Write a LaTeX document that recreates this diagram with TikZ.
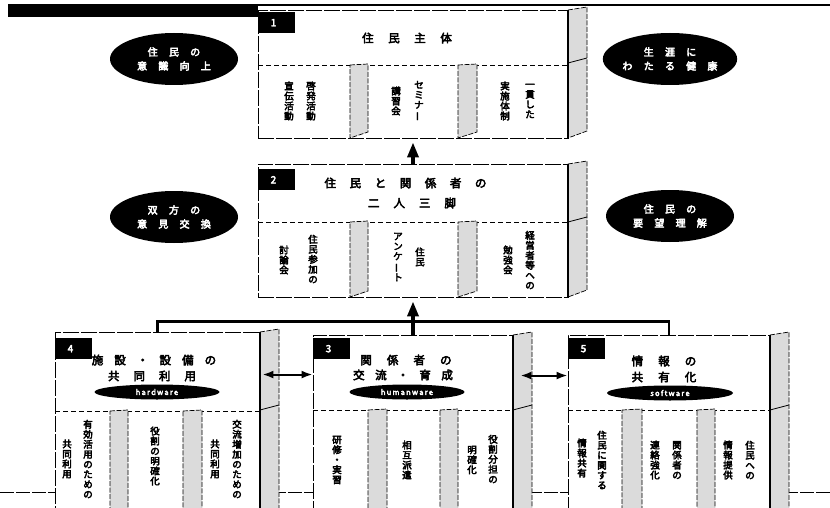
\documentclass[tikz,border=0pt]{standalone}
\usepackage{fontspec}
\setmainfont{Noto Sans CJK JP}[BoldFont={Noto Sans CJK JP}, BoldFeatures={FakeBold=4}]
\usetikzlibrary{arrows.meta,shapes.geometric,calc}
\newcommand\gp[1][14pt]{\hspace{#1}}
\newcommand\vbar{\rotatebox[origin=c]{90}{ー}}
\newcommand\stripat[4]{\draw[stripface] (#1,#3) -- (#2,#3-1) -- (#2,#4-6) -- (#1,#4) -- cycle;}
\newcommand\sidefaceat[4]{\draw[stripface] (#1,#2) -- (#1+19,#2-3) -- (#1+19,#4-7) -- (#1,#4) -- cycle;
  \draw[sidediv] (#1,#3) -- (#1+19,#3-5);
  \draw[line width=1.1pt] (#1,#2) -- (#1,#4);}
\begin{document}
\begin{tikzpicture}[x=1pt,y=-1pt,
  front/.style={draw, line width=0.9pt, fill=white, inner sep=0pt, dash pattern=on 16pt off 2pt},
  stripface/.style={draw, line width=0.7pt, fill=black!14, dash pattern=on 5pt off 1.5pt},
  sidediv/.style={line width=0.8pt},
  divline/.style={line width=0.8pt, dash pattern=on 5pt off 3pt},
  tab/.style={fill=black, text=white, font=\bfseries\fontsize{10}{10}\selectfont, minimum height=21pt, text width=12pt, inner xsep=12.5pt, inner ysep=0pt, align=left, anchor=north west},
  ttl/.style={font=\bfseries\fontsize{11.5}{11.5}\selectfont, inner sep=0pt},
  vt/.style={font=\bfseries\fontsize{9.5}{10}\selectfont, align=center, inner sep=0pt},
  bigell/.style={ellipse, fill=black, text=white, minimum width=128pt, minimum height=52pt, inner sep=0pt, font=\bfseries\fontsize{10}{14}\selectfont, align=center},
  smallell/.style={ellipse, fill=black, text=white, minimum height=15pt, inner sep=0pt, font=\bfseries\fontsize{7.5}{7.5}\selectfont},
  bigarrow/.style={line width=3.5pt, -{Triangle[length=15pt,width=11pt]}},
  bus/.style={line width=2.5pt},
  dbl/.style={line width=2pt, {Latex[length=11pt,width=8pt]}-{Latex[length=11pt,width=8pt]}}
]
\useasboundingbox (0,0) rectangle (830,508);
\clip (0,0) rectangle (830,508);
\fill[white] (0,0) rectangle (830,508);

% header bar
\fill[black] (8,4) rectangle (258,17);
\draw[line width=1.2pt] (258,5) -- (830,5);

% ground line
\draw[line width=0.8pt, dash pattern=on 14pt off 2pt] (0,492) -- (830,492);

% ===== Box 1 =====
\node[front, minimum width=310pt, minimum height=128pt] (b1) at (413,74) {};
\sidefaceat{568}{10}{63}{138}
\draw[divline] (258,65) -- (568,65);
\stripat{350}{368}{65}{138}
\stripat{458}{477}{65}{138}
\node[tab] (tab1) at (258,12) {1};
\node[ttl] (t1) at (407,38) {住\gp[12pt] 民\gp[12pt] 主\gp[12pt] 体};
\node[vt] (c1a) at (311,101) {啓\\発\\活\\動};
\node[vt] (c1b) at (289,101) {宣\\伝\\活\\動};
\node[vt] (c1c) at (419,101) {セ\\ミ\\ナ\\\vbar};
\node[vt] (c1d) at (396,101) {講\\習\\会};
\node[vt] (c1e) at (530,101) {一\\貫\\し\\た};
\node[vt] (c1f) at (505,101) {実\\施\\体\\制};

% ===== Box 2 =====
\node[front, minimum width=310pt, minimum height=133pt] (b2) at (413,230.5) {};
\sidefaceat{568}{164}{222}{297}
\draw[divline] (258,222) -- (568,222);
\stripat{350}{368}{222}{297}
\stripat{458}{477}{222}{297}
\node[tab] (tab2) at (258,169) {2};
\node[ttl] (t2a) at (405.5,183) {住\gp[11pt] 民\gp[11pt] と\gp[11pt] 関\gp[11pt] 係\gp[11pt] 者\gp[11pt] の};
\node[ttl] (t2b) at (412,203) {二\gp 人\gp 三\gp 脚};
\node[vt] (c2a) at (313,259) {住\\民\\参\\加\\の};
\node[vt] (c2b) at (284,260) {討\\論\\会};
\node[vt] (c2c) at (420,257) {住\\民};
\node[vt] (c2d) at (398,257) {ア\\ン\\ケ\\\vbar\\ト};
\node[vt] (c2e) at (530,260) {経\\営\\者\\等\\へ\\の};
\node[vt] (c2f) at (508,260) {勉\\強\\会};

% ===== Box 4 =====
\node[front, minimum width=205pt, minimum height=190pt] (b4) at (157.5,427) {};
\sidefaceat{260}{332}{410}{530}
\draw[divline] (55,411) -- (260,411);
\stripat{110}{128}{411}{530}
\stripat{183}{202}{411}{530}
\node[tab] (tab4) at (55,338) {4};
\node[ttl] (t4a) at (154,360) {施\gp[8.5pt] 設\gp[8.5pt] ・\gp[8.5pt] 設\gp[8.5pt] 備\gp[8.5pt] の};
\node[ttl] (t4b) at (152,376) {共\gp 同\gp 利\gp 用};
\node[smallell, minimum width=125pt] (s4) at (157,392) {h\,a\,r\,d\,w\,a\,r\,e};
\node[vt] (c4a) at (88,459) {有\\効\\活\\用\\の\\た\\め\\の};
\node[vt] (c4b) at (67,459) {共\\同\\利\\用};
\node[vt] (c4c) at (155,456) {役\\割\\の\\明\\確\\化};
\node[vt] (c4d) at (237,459) {交\\流\\増\\加\\の\\た\\め\\の};
\node[vt] (c4e) at (215,459) {共\\同\\利\\用};

% ===== Box 3 =====
\node[front, minimum width=200pt, minimum height=190pt] (b3) at (413,430) {};
\sidefaceat{513}{335}{410}{530}
\draw[divline] (313,410) -- (513,410);
\stripat{368}{387}{410}{530}
\stripat{440}{458}{410}{530}
\node[tab] (tab3) at (313,338) {3};
\node[ttl] (t3a) at (406,360) {関\gp[12.5pt] 係\gp[12.5pt] 者\gp[12.5pt] の};
\node[ttl] (t3b) at (403,375) {交\gp[8pt] 流\gp[8pt] ・\gp[8pt] 育\gp[8pt] 成};
\node[smallell, minimum width=115pt] (s3) at (407,392) {h\,u\,m\,a\,n\,w\,a\,r\,e};
\node[vt] (c3a) at (337,460) {研\\修\\・\\実\\習};
\node[vt] (c3b) at (407,460) {相\\互\\派\\遣};
\node[vt] (c3c) at (493,459) {役\\割\\分\\担\\の};
\node[vt] (c3d) at (472,460) {明\\確\\化};

% ===== Box 5 =====
\node[front, minimum width=202pt, minimum height=190pt] (b5) at (669,430) {};
\sidefaceat{770}{335}{410}{530}
\draw[divline] (568,410) -- (770,410);
\stripat{622}{642}{410}{530}
\stripat{697}{715}{410}{530}
\node[tab] (tab5) at (568,338) {5};
\node[ttl] (t5a) at (664,361) {情\gp[12.5pt] 報\gp[12.5pt] の};
\node[ttl] (t5b) at (664,377) {共\gp[12.5pt] 有\gp[12.5pt] 化};
\node[smallell, minimum width=126pt] (s5) at (670,393) {s\,o\,f\,t\,w\,a\,r\,e};
\node[vt] (c5a) at (602,460) {住\\民\\に\\関\\す\\る};
\node[vt] (c5b) at (582,458) {情\\報\\共\\有};
\node[vt] (c5c) at (677,460) {関\\係\\者\\の};
\node[vt] (c5d) at (655,460) {連\\絡\\強\\化};
\node[vt] (c5e) at (750,460) {住\\民\\へ\\の};
\node[vt] (c5f) at (728,460) {情\\報\\提\\供};

% ===== Ellipses =====
\node[bigell] (e1) at (174,59) {住\gp[9pt] 民\gp[9pt] の\\意\gp[9pt] 識\gp[9pt] 向\gp[9pt] 上};
\node[bigell] (e2) at (670,59) {生\gp[9pt] 涯\gp[9pt] に\\わ\gp[9pt] た\gp[9pt] る\gp[9pt] 健\gp[9pt] 康};
\node[bigell] (e3) at (174,217) {双\gp[9pt] 方\gp[9pt] の\\意\gp[9pt] 見\gp[9pt] 交\gp[9pt] 換};
\node[bigell] (e4) at (670,216) {住\gp[9pt] 民\gp[9pt] の\\要\gp[9pt] 望\gp[9pt] 理\gp[9pt] 解};

% ===== Connectors =====
\draw[bus] (b4.north) -- ++(0,-10) -| (b5.north);
\draw[bigarrow, shorten >=4pt] (b3.north) -- (b2.south);
\draw[bigarrow, shorten >=4pt] (b2.north) -- (b1.south);
\draw[dbl] ([shift={(2,43)}]b4.north east) -- ([shift={(0,40)}]b3.north west);
\draw[dbl] ([shift={(7,41)}]b3.north east) -- ([shift={(0,41)}]b5.north west);
\end{tikzpicture}
\end{document}
